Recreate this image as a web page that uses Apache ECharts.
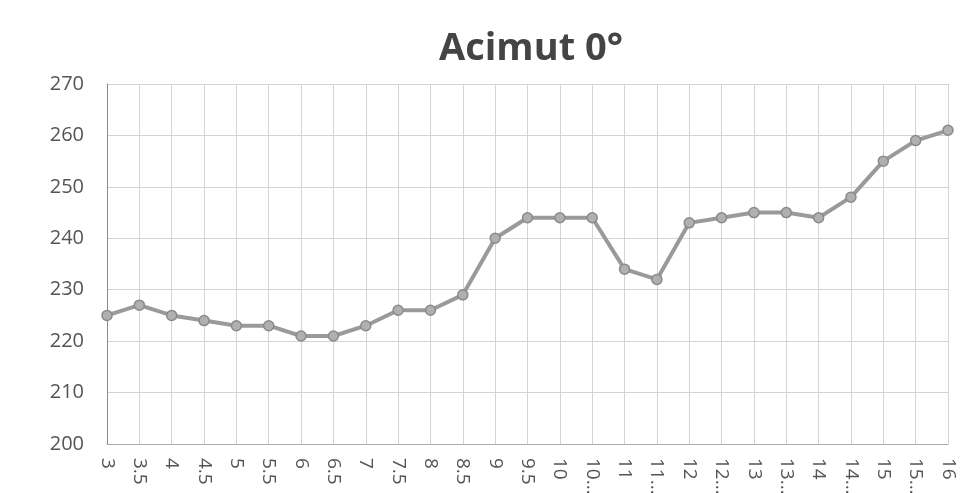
<!DOCTYPE html>
<html>
<head>
<meta charset="utf-8">
<script src="https://cdn.jsdelivr.net/npm/echarts@6/dist/echarts.min.js"></script>
<style>html,body{margin:0;padding:0;background:#fff;}#c{width:975px;height:493px;}</style>
</head>
<body>
<div id="c"></div>
<script>
const categories = ["3","3.5","4","4.5","5","5.5","6","6.5","7","7.5","8","8.5","9","9.5","10","10.5","11","11.5","12","12.5","13","13.5","14","14.5","15","15.5","16"];
const tickLabels = ["3","3.5","4","4.5","5","5.5","6","6.5","7","7.5","8","8.5","9","9.5","10","10.\u2026","11","11.\u2026","12","12.\u2026","13","13.\u2026","14","14.\u2026","15","15.\u2026","16"];
const values = [225,227,225,224,223,223,221,221,223,226,226,229,240,244,244,244,234,232,243,244,245,245,244,248,255,259,261];
const titleText = "Acimut 0\u00b0";

const chart = echarts.init(document.getElementById('c'), null, {renderer:'canvas'});
chart.setOption({
  animation:false,
  backgroundColor:'#fff',
  title:{text:titleText,left:434,top:25,
    textStyle:{fontFamily:'Open Sans',fontWeight:'bold',fontSize:38,color:'#444'}},
  grid:{left:107,right:27,top:84,bottom:49,outerBoundsMode:'none',containLabel:false},
  xAxis:{type:'category',data:categories,boundaryGap:false,
    axisLine:{show:true,lineStyle:{color:'#aaa'}},
    axisTick:{show:false},
    axisLabel:{rotate:-90,interval:0,margin:14,fontFamily:'Open Sans',fontSize:19,color:'#555',
      formatter:(v,i)=>tickLabels[i]},
    splitLine:{show:true,lineStyle:{color:'#d4d4d4',width:1}}},
  yAxis:{type:'value',min:200,max:270,interval:10,
    axisLine:{show:true,lineStyle:{color:'#888'}},
    axisTick:{show:false},
    axisLabel:{margin:23,fontFamily:'Open Sans',fontSize:20,color:'#555'},
    splitLine:{show:true,lineStyle:{color:'#d4d4d4',width:1}}},
  series:[{type:'line',data:values,symbol:'circle',symbolSize:10,
    lineStyle:{color:'#9a9a9a',width:4},
    itemStyle:{color:'#b0b0b0',borderColor:'#8a8a8a',borderWidth:1.5}}]
});
</script>
</body>
</html>
